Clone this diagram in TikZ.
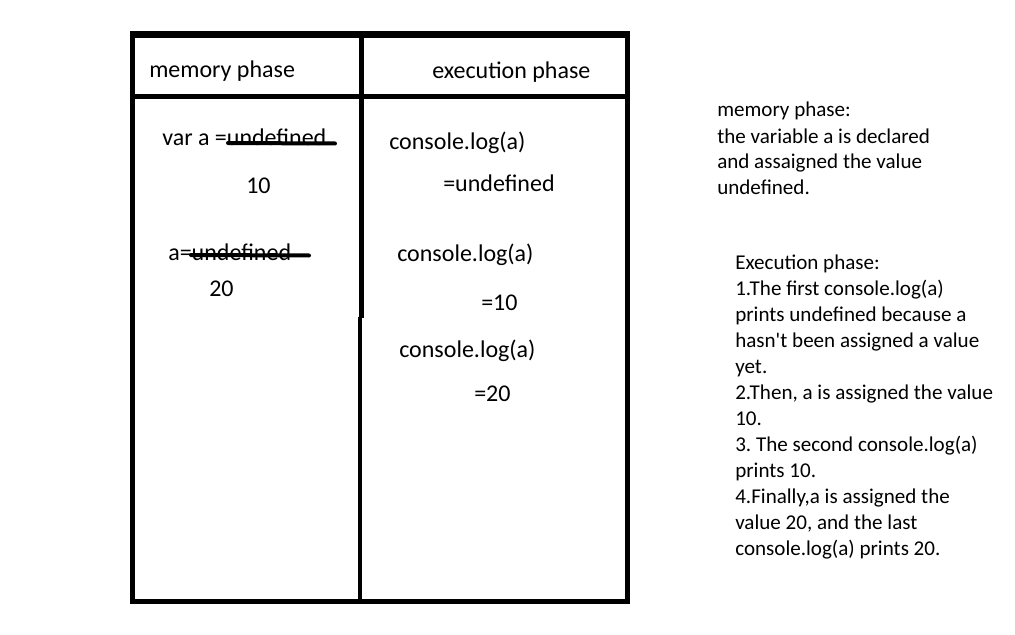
\documentclass[tikz,border=0pt]{standalone}
\usepackage{fontspec}
\setmainfont{Carlito}
\frenchspacing
\begin{document}
\begin{tikzpicture}[x=0.75pt,y=-0.75pt,
  frame/.style={line width=3.75pt, line cap=rect},
  tbl/.style={anchor=base west, inner sep=0pt, font=\fontsize{18pt}{21pt}\selectfont},
  note/.style={anchor=base west, inner sep=0pt, font=\fontsize{15.8pt}{19.5pt}\selectfont},
  strike/.style={line width=3pt, line cap=round}]
\useasboundingbox[fill=white] (0,0) rectangle (1015,635);
% table frame
\coordinate (tl) at (132.5,35);
\coordinate (tr) at (627.5,35);
\coordinate (bl) at (132.5,601.5);
\coordinate (br) at (627.5,601.5);
\draw[frame] (tl) -- (bl) -- (br) -- (tr);
\draw[line width=5.25pt] (130,35) -- (630,35);
\coordinate (hl) at (130,96.5);
\coordinate (hr) at (630,96.5);
\draw[line width=3.75pt] (hl) -- (hr);
\coordinate (vt) at (361.3,35);
\coordinate (vm) at (361.3,318);
\coordinate (vm2) at (360,317);
\coordinate (vb) at (360,601.5);
\draw[line width=3.6pt] (vt) -- (vm);
\draw[line width=3.6pt] (vm2) -- (vb);
% headers
\node[tbl] (hmem) at (149,78) {memory phase};
\node[tbl] (hexe) at (432,79) {execution phase};
% memory column
\node[tbl] (m1) at (162,146) {var a =undefined};
\coordinate (s1a) at (228,143);
\coordinate (s1b) at (335,143.5);
\draw[strike] (s1a) -- (s1b);
\node[tbl] (m2) at (246,193) {10};
\node[tbl] (m3) at (168,260) {a=undefined};
\coordinate (s2a) at (191,255);
\coordinate (s2b) at (309,255.5);
\draw[strike] (s2a) -- (s2b);
\node[tbl] (m4) at (209,296) {20};
% execution column
\node[tbl] (e1) at (389,150) {console.log(a)};
\node[tbl] (e2) at (443,191) {=undefined};
\node[tbl] (e3) at (397,261) {console.log(a)};
\node[tbl] (e4) at (481,310) {=10};
\node[tbl] (e5) at (399,357) {console.log(a)};
\node[tbl] (e6) at (474,401) {=20};
% notes
\foreach \t [count=\i] in {memory phase:,the variable a is declared,and assaigned the value,undefined.}
  \node[note] (n\i) at (717,{117+26*(\i-1)}) {\t};
\foreach \t [count=\i] in {Execution phase:,1.The first console.log(a),prints undefined because a,hasn\textquotesingle t been assigned a value,yet.,{2.Then, a is assigned the value},10.,3. The second console.log(a),prints 10.,{4.Finally,a is assigned the},{value 20, and the last},console.log(a) prints 20.}
  \node[note] (x\i) at (735,{269+26*(\i-1)}) {\t};
\end{tikzpicture}
\end{document}
